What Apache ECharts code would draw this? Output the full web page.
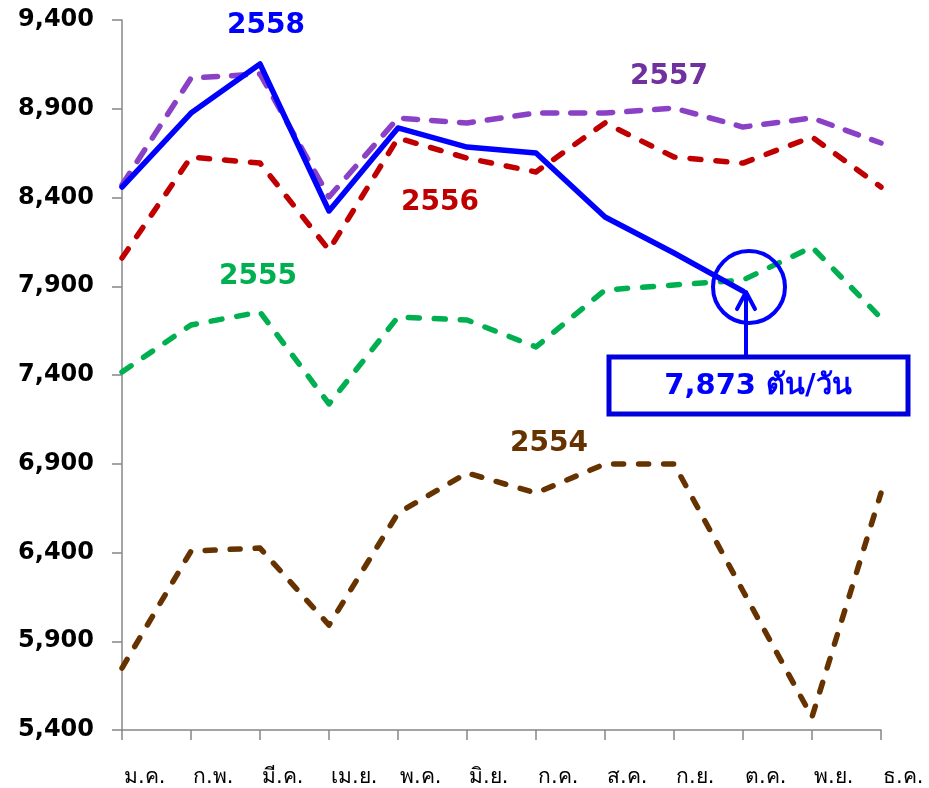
<!DOCTYPE html>
<html>
<head>
<meta charset="utf-8">
<script src="https://cdn.jsdelivr.net/npm/echarts@6/dist/echarts.min.js"></script>
<style>
html,body{margin:0;padding:0;background:#fff;}
#chart{width:929px;height:788px;}
</style>
</head>
<body>
<div id="chart"></div>
<script>
// ---- data ----
const months = ['ม.ค.','ก.พ.','มี.ค.','เม.ย.','พ.ค.','มิ.ย.','ก.ค.','ส.ค.','ก.ย.','ต.ค.','พ.ย.','ธ.ค.'];
const y2554 = [5749, 6408, 6425, 5991, 6622, 6848, 6735, 6899, 6899, 6183, 5473, 6735];
const y2555 = [7417, 7682, 7755, 7237, 7727, 7710, 7558, 7879, 7907, 7935, 8121, 7721];
const y2556 = [8059, 8628, 8594, 8104, 8735, 8622, 8544, 8820, 8628, 8594, 8741, 8459];
const y2557 = [8470, 9073, 9096, 8403, 8848, 8820, 8876, 8876, 8904, 8797, 8848, 8707];
const y2558 = [8459, 8876, 9152, 8324, 8792, 8684, 8651, 8290, 8087, 7873, null, null];
const yMin = 5400, yMax = 9400, yStep = 500;
const calloutText = '7,873 ตัน/วัน';
const calloutIndex = 9;

const FONT = "Tahoma, 'DejaVu Sans', sans-serif";
const chart = echarts.init(document.getElementById('chart'), null, {renderer: 'canvas'});

function dashed(name, data, color, dash) {
  return {
    name, type: 'line', data, symbol: 'none', smooth: false,
    lineStyle: {color, width: 5.5, type: dash, cap: 'round', join: 'round'},
    z: 2
  };
}

const option = {
  animation: false,
  backgroundColor: '#ffffff',
  grid: {left: 122, right: 48, top: 20, bottom: 58, containLabel: false},
  xAxis: {
    type: 'category', data: months, boundaryGap: false,
    axisLine: {lineStyle: {color: '#878787', width: 1.5}},
    axisTick: {show: true, inside: false, length: 10, alignWithLabel: true, lineStyle: {color: '#878787', width: 1.5}},
    axisLabel: {color: '#000', fontSize: 21, fontFamily: FONT, margin: 37, interval: 0, align: 'left', padding: [0, 0, 0, 2]},
    splitLine: {show: false}
  },
  yAxis: {
    type: 'value', min: yMin, max: yMax, interval: yStep,
    axisLine: {show: true, lineStyle: {color: '#878787', width: 1.5}},
    axisTick: {show: true, inside: false, length: 10, lineStyle: {color: '#878787', width: 1.5}},
    axisLabel: {color: '#000', fontSize: 24, fontWeight: 'bold', fontFamily: FONT, margin: 28,
      formatter: v => v.toLocaleString('en-US')},
    splitLine: {show: false}
  },
  series: [
    dashed('2554', y2554, '#663300', [10, 15]),
    dashed('2555', y2555, '#00B050', [11, 15]),
    dashed('2556', y2556, '#C00000', [11, 15]),
    dashed('2557', y2557, '#8B41C6', [14, 14]),
    {
      name: '2558', type: 'line', data: y2558, symbol: 'none', smooth: false,
      lineStyle: {color: '#0000FF', width: 5.5, type: 'solid', cap: 'round', join: 'round'},
      z: 3,
      markPoint: {
        silent: true,
        symbol: 'circle', symbolSize: 72, symbolOffset: [6, -4],
        itemStyle: {color: 'rgba(0,0,0,0)', borderColor: '#0000FF', borderWidth: 4},
        label: {show: false},
        data: [{coord: [calloutIndex, y2558[calloutIndex]]}]
      }
    }
  ]
};
chart.setOption(option);

// annotations
const p = chart.convertToPixel({xAxisIndex: 0, yAxisIndex: 0}, [calloutIndex, y2558[calloutIndex]]);
const ax = p[0] + 3, tipY = p[1] + 1;
const boxTop = 357;
function yearText(t, x, y, color) {
  return {type: 'text', x, y, z: 10, style: {text: t, fill: color, font: "bold 28px " + FONT, align: 'center', verticalAlign: 'middle'}};
}
chart.setOption({
  graphic: [
    yearText('2558', 266, 26, '#0000FF'),
    yearText('2557', 669, 77, '#7030A0'),
    yearText('2556', 440, 203, '#C00000'),
    yearText('2555', 258, 277, '#00B050'),
    yearText('2554', 549, 444, '#663300'),
    {type: 'line', z: 10, shape: {x1: ax, y1: boxTop, x2: ax, y2: tipY}, style: {stroke: '#0000FF', lineWidth: 4}},
    {type: 'polyline', z: 10, shape: {points: [[ax - 9, tipY + 17], [ax, tipY], [ax + 9, tipY + 17]]}, style: {stroke: '#0000FF', lineWidth: 4, fill: null, lineCap: 'round', lineJoin: 'round'}},
    {type: 'rect', z: 10, shape: {x: 609, y: boxTop, width: 299, height: 57}, style: {fill: '#fff', stroke: '#0000DD', lineWidth: 5}},
    {type: 'text', z: 11, x: 758, y: 386, style: {text: calloutText, fill: '#0000FF', font: "bold 29px " + FONT, align: 'center', verticalAlign: 'middle'}}
  ]
});
</script>
</body>
</html>
